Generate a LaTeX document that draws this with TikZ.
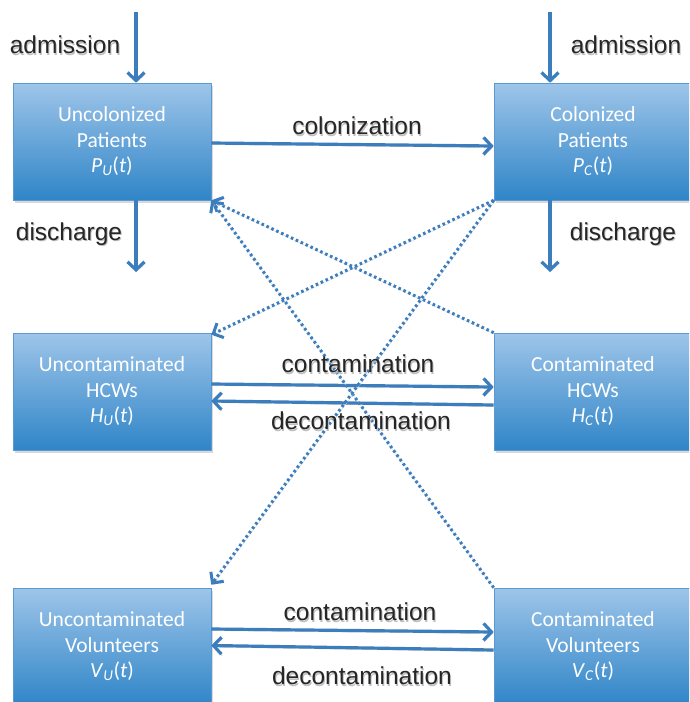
\documentclass[tikz,border=0pt]{standalone}
\usepackage{fontspec}
\setmainfont{Carlito}
\newfontfamily\labfont{Liberation Sans}
\usetikzlibrary{arrows.meta,shadows,calc}
\definecolor{boxtop}{HTML}{9EC5E9}
\definecolor{boxbot}{HTML}{2F85C8}
\definecolor{boxedge}{HTML}{5A9AD2}
\definecolor{arrc}{HTML}{3B7DBD}
\begin{document}
\begin{tikzpicture}[x=1pt,y=-1pt,
  box/.style={rectangle, minimum width=198pt, minimum height=117pt, inner sep=0pt,
    top color=boxtop, bottom color=boxbot, draw=boxedge, line width=0.6pt,
    text=white, align=center, font=\fontsize{21.5}{25.5}\selectfont,
    drop shadow={shadow xshift=1.5pt, shadow yshift=-2.5pt, opacity=0.3}},
  arr/.style={draw=arrc, line width=3.2pt, -{Straight Barb[length=8pt,width=17pt]},
    preaction={draw=black!22, transform canvas={shift={(0.8pt,-1.6pt)}}}},
  dotarr/.style={draw=arrc, line width=3pt, dash pattern=on 2.6pt off 2.8pt,
    -{Straight Barb[length=8pt,width=16pt]},
    preaction={draw=black!15, transform canvas={shift={(0.8pt,-1.4pt)}}}},
  lbl/.style={font=\labfont\fontsize{24.5}{26}\selectfont, text=black!85, inner sep=0pt},
  lblsh/.style={font=\labfont\fontsize{24.5}{26}\selectfont, text=black!25, inner sep=0pt},
]
\clip (0,0) rectangle (689,702);
\fill[white] (0,0) rectangle (689,702);

% boxes
\node[box] (pu) at (112,141.5) {Uncolonized\\Patients\\\textit{P}\textsubscript{\textit{U}}(\textit{t})};
\node[box] (pc) at (593,141.5) {Colonized\\Patients\\\textit{P}\textsubscript{\textit{C}}(\textit{t})};
\node[box] (hu) at (112,391.5) {Uncontaminated\\HCWs\\\textit{H}\textsubscript{\textit{U}}(\textit{t})};
\node[box] (hc) at (593,391.5) {Contaminated\\HCWs\\\textit{H}\textsubscript{\textit{C}}(\textit{t})};
\node[box] (vu) at (112,646.5) {Uncontaminated\\Volunteers\\\textit{V}\textsubscript{\textit{U}}(\textit{t})};
\node[box] (vc) at (593,646.5) {Contaminated\\Volunteers\\\textit{V}\textsubscript{\textit{C}}(\textit{t})};

% free ends
\coordinate (aL) at (136,12);
\coordinate (aR) at (550,12);
\coordinate (dL) at (136,272);
\coordinate (dR) at (550,272);

% admission / discharge
\draw[arr] (aL) -- (aL |- pu.north);
\draw[arr] (aR) -- (aR |- pc.north);
\draw[arr] (dL |- pu.south) -- (dL);
\draw[arr] (dR |- pc.south) -- (dR);

% horizontal transitions
\draw[arr] ([yshift=-1.5pt]pu.east) -- ([yshift=-4.5pt]pc.west);
\draw[arr] ([yshift=7.5pt]hu.east) -- ([yshift=4.5pt]hc.west);
\draw[arr] ([yshift=-13.5pt]hc.west) -- ([yshift=-9.5pt]hu.east);
\draw[arr] ([yshift=17.5pt]vu.east) -- ([yshift=14.5pt]vc.west);
\draw[arr] ([yshift=-3.5pt]vc.west) -- ([yshift=1pt]vu.east);

% dotted transmissions
\draw[dotarr] (hc.north west) -- (pu.south east);
\draw[dotarr] (vc.north west) -- (pu.south east);
\draw[dotarr] (pc.south west) -- ([yshift=-2pt]hu.north east);
\draw[dotarr] (pc.south west) -- ([yshift=3pt]vu.north east);

% labels
\node[lblsh] (s1) at (66,46.5) {admission};
\node[lbl] (l1) at (65,45) {admission};
\node[lblsh] (s2) at (627,46.5) {admission};
\node[lbl] (l2) at (626,45) {admission};
\node[lblsh] (s3) at (70,235.5) {discharge};
\node[lbl] (l3) at (69,234) {discharge};
\node[lblsh] (s4) at (624,235.5) {discharge};
\node[lbl] (l4) at (623,234) {discharge};
\node[lblsh] (s5) at (358,127.5) {colonization};
\node[lbl] (l5) at (357,126) {colonization};
\node[lblsh] (s6) at (359,365.5) {contamination};
\node[lbl] (l6) at (358,364) {contamination};
\node[lblsh] (s7) at (362,422.5) {decontamination};
\node[lbl] (l7) at (361,421) {decontamination};
\node[lblsh] (s8) at (361,613.5) {contamination};
\node[lbl] (l8) at (360,612) {contamination};
\node[lblsh] (s9) at (363,677.5) {decontamination};
\node[lbl] (l9) at (362,676) {decontamination};
\end{tikzpicture}
\end{document}
